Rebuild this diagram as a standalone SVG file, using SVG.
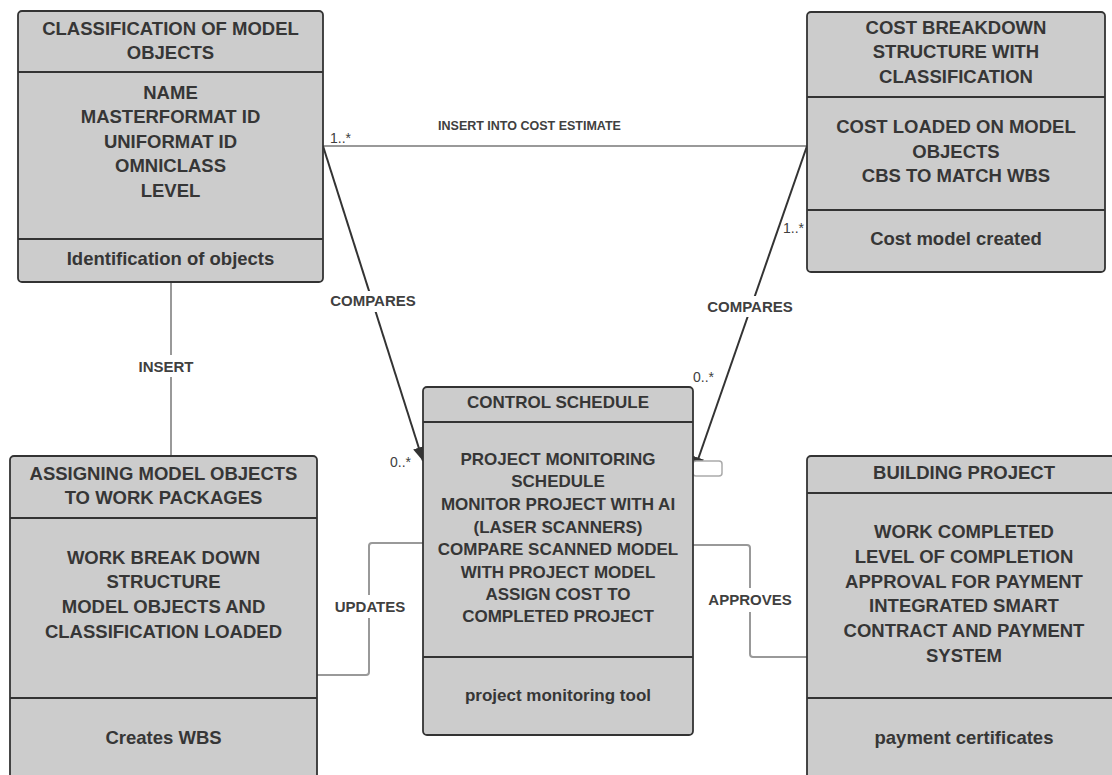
<svg xmlns="http://www.w3.org/2000/svg" width="1112" height="775" viewBox="0 0 1112 775">
<defs>
<style>
.box{fill:#cccccc;stroke:#333333;stroke-width:1.8}
.div{stroke:#333333;stroke-width:2}
.t{font-family:"Liberation Sans",Arial,sans-serif;font-weight:bold;fill:#363636;text-anchor:middle}
.t18{font-size:18.5px}
.t17{font-size:17px}
.gray{fill:none;stroke:#999999;stroke-width:2}
.dark{fill:none;stroke:#333333;stroke-width:2}
.lbl{font-family:"Liberation Sans",Arial,sans-serif;font-weight:bold;fill:#404040;text-anchor:middle;font-size:15px}
.mult{font-family:"Liberation Sans",Arial,sans-serif;fill:#404040;font-size:14px}
.bg{fill:#ffffff}
</style>
<marker id="arr" viewBox="0 0 12 10" refX="12" refY="5" markerWidth="7" markerHeight="6" orient="auto" markerUnits="strokeWidth">
<path d="M0,0 L12,5 L0,10 z" fill="#333333"/>
</marker>
</defs>
<rect width="1112" height="775" fill="#ffffff"/>

<g id="connectors">
<line class="gray" x1="323" y1="146" x2="807" y2="146" stroke-width="1.5"/>
<text class="lbl" x="529.5" y="129.5" style="font-size:12.5px">INSERT INTO COST ESTIMATE</text>
<text class="mult" x="330" y="143">1..*</text>

<line class="dark" x1="323" y1="146" x2="423" y2="461" marker-end="url(#arr)"/>
<rect class="bg" x="326" y="291" width="94" height="21"/>
<text class="lbl" x="373" y="306">COMPARES</text>
<text class="mult" x="390" y="467">0..*</text>

<line class="dark" x1="807" y1="146" x2="694" y2="471" marker-end="url(#arr)"/>
<rect class="bg" x="703" y="296" width="94" height="21"/>
<text class="lbl" x="750" y="312">COMPARES</text>
<text class="mult" x="783" y="233">1..*</text>
<text class="mult" x="693" y="382">0..*</text>

<rect x="693" y="461" width="29" height="15" rx="3" fill="#ffffff" stroke="#aaaaaa" stroke-width="1.5"/>

<line class="gray" x1="171" y1="282" x2="171" y2="456"/>
<rect class="bg" x="134" y="355" width="64" height="22"/>
<text class="lbl" x="166" y="372">INSERT</text>

<path class="gray" d="M317,675 H366 Q369,675 369,672 V546 Q369,543 372,543 H423"/>
<rect class="bg" x="331" y="595" width="77" height="23"/>
<text class="lbl" x="370" y="612">UPDATES</text>

<path class="gray" d="M693,545 H747 Q750,545 750,548 V654 Q750,657 753,657 H807"/>
<rect class="bg" x="705" y="588" width="90" height="24"/>
<text class="lbl" x="750" y="605">APPROVES</text>

<line x1="310" y1="58" x2="310" y2="72" stroke="#aaaaaa" stroke-width="1.5"/>
</g>

<g id="classification">
<rect class="box" x="18" y="11" width="305" height="271" rx="4"/>
<line class="div" x1="18" y1="72" x2="323" y2="72"/>
<line class="div" x1="18" y1="239" x2="323" y2="239"/>
<text class="t t18" x="170.5" y="34.6">CLASSIFICATION OF MODEL</text>
<text class="t t18" x="170.5" y="58.6">OBJECTS</text>
<text class="t t18" x="170.5" y="98.5">NAME</text>
<text class="t t18" x="170.5" y="123">MASTERFORMAT ID</text>
<text class="t t18" x="170.5" y="147.5">UNIFORMAT ID</text>
<text class="t t18" x="170.5" y="172">OMNICLASS</text>
<text class="t t18" x="170.5" y="196.5">LEVEL</text>
<text class="t t18" x="170.5" y="264.6">Identification of objects</text>
</g>

<g id="cost-breakdown">
<rect class="box" x="807" y="12" width="298" height="260" rx="4"/>
<line class="div" x1="807" y1="97" x2="1105" y2="97"/>
<line class="div" x1="807" y1="210" x2="1105" y2="210"/>
<text class="t t18" x="956" y="34">COST BREAKDOWN</text>
<text class="t t18" x="956" y="58.3">STRUCTURE WITH</text>
<text class="t t18" x="956" y="82.6">CLASSIFICATION</text>
<text class="t t18" x="956" y="133.3">COST LOADED ON MODEL</text>
<text class="t t18" x="956" y="158.3">OBJECTS</text>
<text class="t t18" x="956" y="182.3">CBS TO MATCH WBS</text>
<text class="t t18" x="956" y="245">Cost model created</text>
</g>

<g id="control-schedule">
<rect class="box" x="423" y="387" width="270" height="348" rx="4"/>
<line class="div" x1="423" y1="422" x2="693" y2="422"/>
<line class="div" x1="423" y1="657" x2="693" y2="657"/>
<text class="t t17" x="558" y="407.5">CONTROL SCHEDULE</text>
<text class="t t17" x="558" y="465">PROJECT MONITORING</text>
<text class="t t17" x="558" y="487">SCHEDULE</text>
<text class="t t17" x="558" y="509.5">MONITOR PROJECT WITH AI</text>
<text class="t t17" x="558" y="532.5">(LASER SCANNERS)</text>
<text class="t t17" x="558" y="555">COMPARE SCANNED MODEL</text>
<text class="t t17" x="558" y="577.5">WITH PROJECT MODEL</text>
<text class="t t17" x="558" y="599.5">ASSIGN COST TO</text>
<text class="t t17" x="558" y="622">COMPLETED PROJECT</text>
<text class="t t17" x="558" y="701">project monitoring tool</text>
</g>

<g id="assigning">
<rect class="box" x="10" y="456" width="307" height="340" rx="4"/>
<line class="div" x1="10" y1="518" x2="317" y2="518"/>
<line class="div" x1="10" y1="698" x2="317" y2="698"/>
<text class="t t18" x="163.5" y="480">ASSIGNING MODEL OBJECTS</text>
<text class="t t18" x="163.5" y="504">TO WORK PACKAGES</text>
<text class="t t18" x="163.5" y="564">WORK BREAK DOWN</text>
<text class="t t18" x="163.5" y="588.3">STRUCTURE</text>
<text class="t t18" x="163.5" y="613.3">MODEL OBJECTS AND</text>
<text class="t t18" x="163.5" y="637.6">CLASSIFICATION LOADED</text>
<text class="t t18" x="163.5" y="744">Creates WBS</text>
</g>

<g id="building-project">
<rect class="box" x="807" y="456" width="314" height="340" rx="4"/>
<line class="div" x1="807" y1="493" x2="1121" y2="493"/>
<line class="div" x1="807" y1="698" x2="1121" y2="698"/>
<text class="t t18" x="964" y="479.3">BUILDING PROJECT</text>
<text class="t t18" x="964" y="538.3">WORK COMPLETED</text>
<text class="t t18" x="964" y="563.3">LEVEL OF COMPLETION</text>
<text class="t t18" x="964" y="587.6">APPROVAL FOR PAYMENT</text>
<text class="t t18" x="964" y="612.3">INTEGRATED SMART</text>
<text class="t t18" x="964" y="636.6">CONTRACT AND PAYMENT</text>
<text class="t t18" x="964" y="661.6">SYSTEM</text>
<text class="t t18" x="964" y="744">payment certificates</text>
</g>
</svg>
